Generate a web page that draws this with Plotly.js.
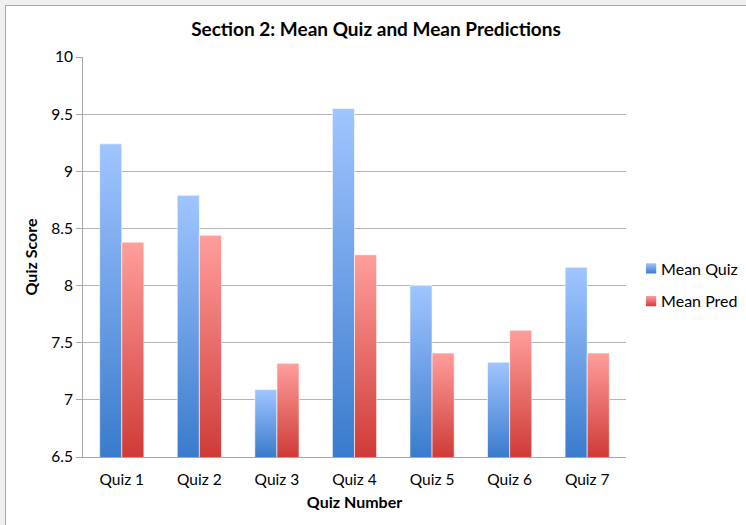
<!DOCTYPE html>
<html>
<head>
<meta charset="utf-8">
<script src="https://cdn.plot.ly/plotly-3.0.1.min.js"></script>
<style>
  html, body { margin: 0; padding: 0; background: #f0f0f0; width: 746px; height: 525px; overflow: hidden; }
  #frame { position: absolute; left: 5px; top: 5px; width: 741px; height: 520px; border-top: 1px solid #a8a8a8; border-left: 1px solid #a8a8a8; background: #ffffff; }
  #chart { width: 740px; height: 519px; }
</style>
</head>
<body>
<div id="frame"><div id="chart"></div></div>
<script>
const categories = ["Quiz 1", "Quiz 2", "Quiz 3", "Quiz 4", "Quiz 5", "Quiz 6", "Quiz 7"];
const meanQuiz = [9.24, 8.79, 7.09, 9.55, 8.00, 7.33, 8.16];
const meanPred = [8.38, 8.44, 7.32, 8.27, 7.41, 7.61, 7.41];
const yTicks = [6.5, 7, 7.5, 8, 8.5, 9, 9.5, 10];

const FONT = "Lato, 'Open Sans', sans-serif";

const traces = [
  { type: "bar", name: "Mean Quiz", x: categories, y: meanQuiz,
    marker: { color: "#6a9de6", line: { width: 0 } }, legendgroup: "a" },
  { type: "bar", name: "Mean Pred", x: categories, y: meanPred,
    marker: { color: "#e86a66", line: { width: 0 } }, legendgroup: "b" }
];

const layout = {
  width: 740, height: 519,
  margin: { l: 77, r: 120, t: 51, b: 68, autoexpand: false },
  paper_bgcolor: "#ffffff", plot_bgcolor: "#ffffff",
  font: { family: FONT, size: 16, color: "#000000" },
  title: { text: "<b>Section 2: Mean Quiz and Mean Predictions</b>", x: 0.5, xref: "container", xanchor: "center",
           y: 0.955, yanchor: "middle",
           font: { family: FONT, size: 19, color: "#000000" } },
  barmode: "group", bargap: 0.43, bargroupgap: 0,
  xaxis: { type: "category", showgrid: false, showline: true, linecolor: "#a8a8a8", linewidth: 1,
           ticks: "", tickfont: { size: 15.5 }, ticklabelstandoff: 8,
           title: { text: "<b>Quiz Number</b>", font: { size: 16 }, standoff: 10 } },
  yaxis: { range: [6.5, 10], tickvals: yTicks, ticktext: yTicks.map(String), showgrid: true, gridcolor: "#b4b4b4", gridwidth: 1,
           showline: true, linecolor: "#a8a8a8", linewidth: 1, ticks: "outside", ticklen: 6, tickcolor: "#a8a8a8",
           tickfont: { size: 15.5 }, zeroline: false,
           title: { text: "<b>Quiz Score</b>", font: { size: 16 }, standoff: 9 } },
  legend: { x: 0.991, xanchor: "left", y: 0.43, yanchor: "middle", tracegroupgap: 9,
            font: { size: 16 }, bgcolor: "rgba(0,0,0,0)" },
  showlegend: true
};

function applyGradients(gd) {
  const svg = gd.querySelector("svg.main-svg");
  const ns = "http://www.w3.org/2000/svg";
  let defs = svg.querySelector("defs");
  if (!defs) { defs = document.createElementNS(ns, "defs"); svg.insertBefore(defs, svg.firstChild); }
  const colors = [["#a0c5ff", "#3a7bcc"], ["#ff9e9c", "#cf3b37"]];
  const bottom = gd._fullLayout.yaxis._length;
  let n = 0;
  function makeGrad(top, bot, y1, y2, units) {
    const id = "g" + (n++);
    const lg = document.createElementNS(ns, "linearGradient");
    lg.setAttribute("id", id);
    lg.setAttribute("gradientUnits", units);
    lg.setAttribute("x1", "0"); lg.setAttribute("y1", String(y1));
    lg.setAttribute("x2", "0"); lg.setAttribute("y2", String(y2));
    [["0", top], ["1", bot]].forEach(([o, c]) => {
      const s = document.createElementNS(ns, "stop");
      s.setAttribute("offset", o); s.setAttribute("stop-color", c);
      lg.appendChild(s);
    });
    defs.appendChild(lg);
    return id;
  }
  gd.querySelectorAll("g.trace.bars").forEach((g, i) => {
    g.querySelectorAll("g.point path").forEach(p => {
      const bb = p.getBBox();
      const id = makeGrad(colors[i][0], colors[i][1], bb.y, bottom, "userSpaceOnUse");
      p.style.fill = "url(#" + id + ")";
      p.style.stroke = "rgba(255,255,255,0.6)"; p.style.strokeWidth = "1px";
    });
  });
  gd.querySelectorAll("g.legend g.traces").forEach((g, i) => {
    const id = makeGrad(colors[i][0], colors[i][1], 0, 1, "objectBoundingBox");
    const pts = g.querySelector("g.legendpoints");
    if (pts) pts.setAttribute("transform", "translate(13,0) scale(0.85)");
    g.querySelectorAll("g.legendpoints path").forEach(p => { p.style.fill = "url(#" + id + ")"; p.style.stroke = "none"; });
  });
}

Plotly.newPlot("chart", traces, layout, { staticPlot: true, displayModeBar: false }).then(applyGradients);
</script>
</body>
</html>
